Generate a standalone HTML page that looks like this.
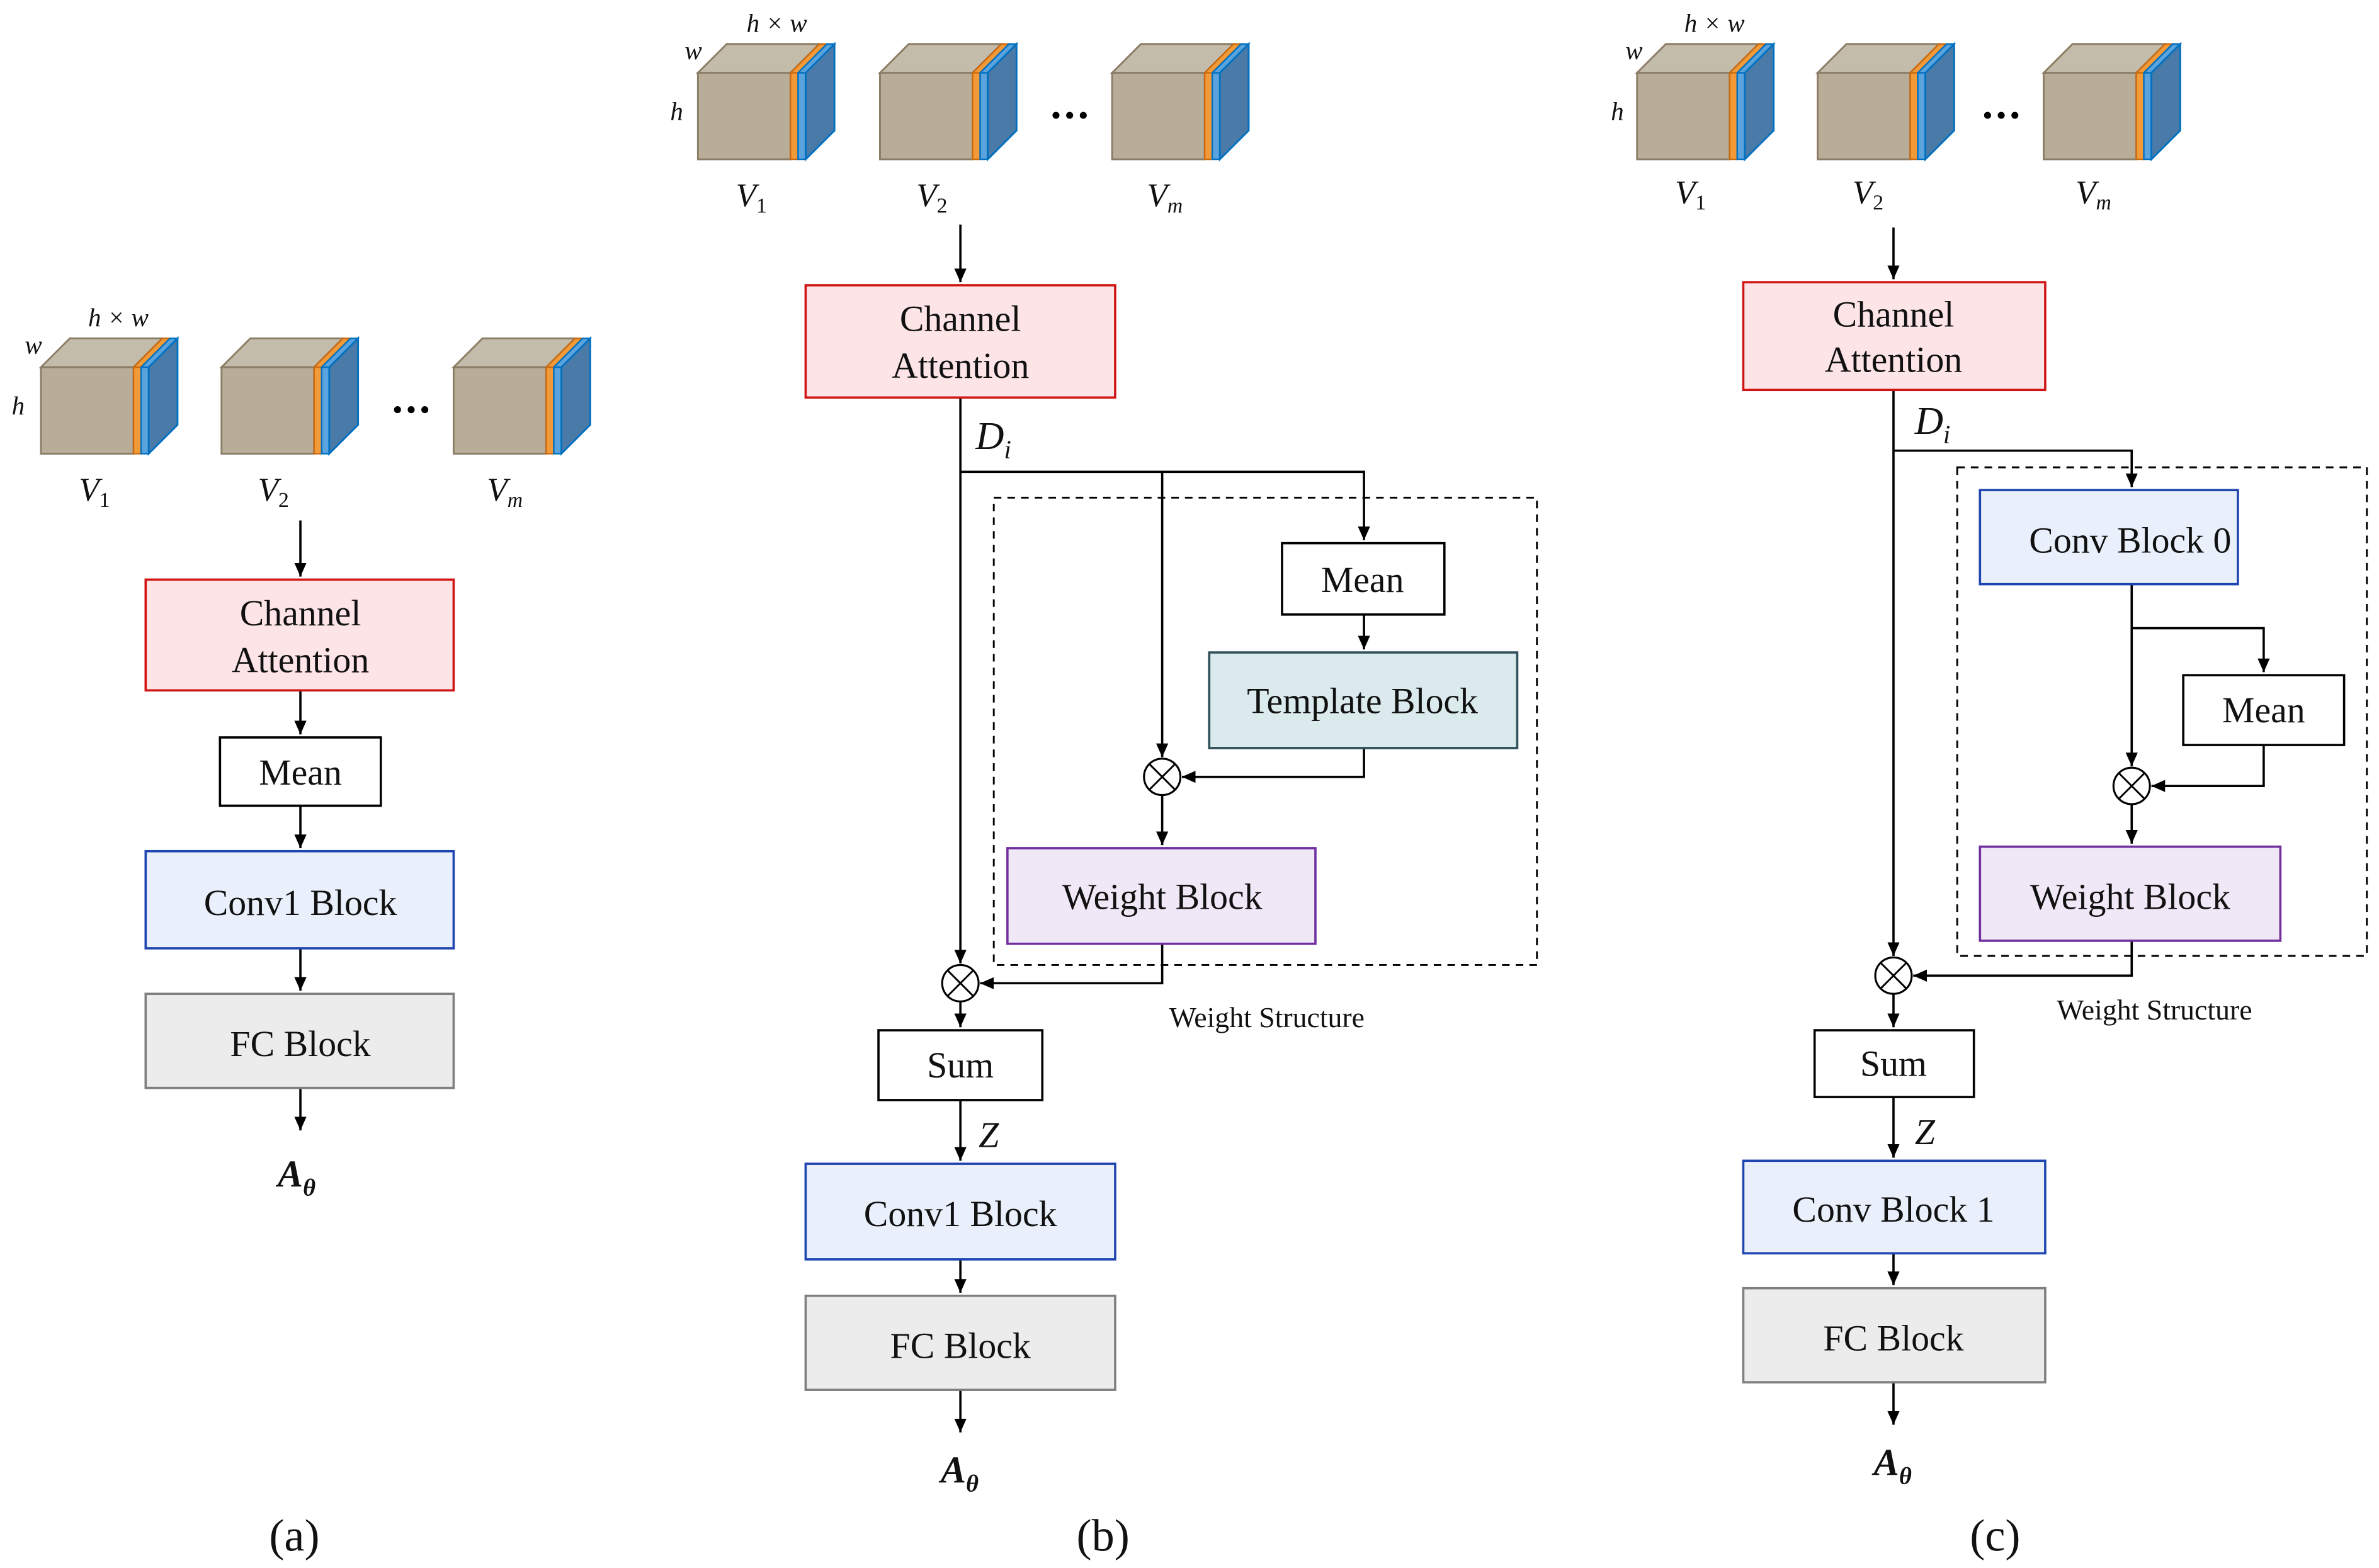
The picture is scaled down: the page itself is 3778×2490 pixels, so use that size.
<!DOCTYPE html>
<html><head><meta charset="utf-8"><style>
html,body{margin:0;padding:0;background:#fff;}
svg{display:block;}
text{font-family:"Liberation Serif",serif;fill:#111;}
.bx{font-size:24px;text-anchor:middle;dominant-baseline:central;}
.m{font-style:italic;}
</style></head><body>
<svg width="3778" height="2490" viewBox="0 0 1568 1033.4" preserveAspectRatio="none" xmlns="http://www.w3.org/2000/svg">
<defs>
<marker id="ar" markerWidth="10" markerHeight="10" refX="9" refY="5" orient="auto" markerUnits="userSpaceOnUse"><path d="M0,1 L9,5 L0,9 Z" fill="#000"/></marker>
<g id="cube">
 <polygon points="0,0 19,-19 80,-19 61,0" fill="#c4bcaa" stroke="#8b7d65" stroke-width="1.2"/>
 <polygon points="61,0 80,-19 85,-19 66,0" fill="#f29a38" stroke="#c96a10" stroke-width="1"/>
 <polygon points="66,0 85,-19 90,-19 71,0" fill="#5ba3dd" stroke="#0070c0" stroke-width="1"/>
 <rect x="0" y="0" width="61" height="57" fill="#b8ad98" stroke="#8b7d65" stroke-width="1.2"/>
 <rect x="61" y="0" width="5" height="57" fill="#f29a38" stroke="#c96a10" stroke-width="1"/>
 <rect x="66" y="0" width="5" height="57" fill="#5ba3dd" stroke="#0070c0" stroke-width="1"/>
 <polygon points="71,0 90,-19 90,38 71,57" fill="#4a7aa8" stroke="#0070c0" stroke-width="1.2"/>
</g>
<g id="otimes"><circle cx="0" cy="0" r="12" fill="#fff" stroke="#000" stroke-width="1.3"/><path d="M-8.5,-8.5 L8.5,8.5 M-8.5,8.5 L8.5,-8.5" stroke="#000" stroke-width="1.2"/></g>
</defs>
<g stroke="#000" stroke-width="1.5" fill="none">
<path d="M198,343 V380" marker-end="url(#ar)"/>
<path d="M198,455 V484" marker-end="url(#ar)"/>
<path d="M198,531 V559" marker-end="url(#ar)"/>
<path d="M198,625 V653" marker-end="url(#ar)"/>
<path d="M198,717 V745" marker-end="url(#ar)"/>
<path d="M633,148 V186" marker-end="url(#ar)"/>
<path d="M633,262 V635" marker-end="url(#ar)"/>
<path d="M633,311 H899 V356" marker-end="url(#ar)"/>
<path d="M766,311 V499" marker-end="url(#ar)"/>
<path d="M899,405 V428" marker-end="url(#ar)"/>
<path d="M899,493 V512 H779" marker-end="url(#ar)"/>
<path d="M766,524 V557" marker-end="url(#ar)"/>
<path d="M766,622 V648 H646" marker-end="url(#ar)"/>
<path d="M633,660 V677" marker-end="url(#ar)"/>
<path d="M633,725 V765" marker-end="url(#ar)"/>
<path d="M633,830 V852" marker-end="url(#ar)"/>
<path d="M633,916 V944" marker-end="url(#ar)"/>
<path d="M1248,150 V184" marker-end="url(#ar)"/>
<path d="M1248,257 V630" marker-end="url(#ar)"/>
<path d="M1248,297 H1405 V321" marker-end="url(#ar)"/>
<path d="M1405,385 V505" marker-end="url(#ar)"/>
<path d="M1405,414 H1492 V443" marker-end="url(#ar)"/>
<path d="M1492,491 V518 H1418" marker-end="url(#ar)"/>
<path d="M1405,530 V556" marker-end="url(#ar)"/>
<path d="M1405,620 V643 H1261" marker-end="url(#ar)"/>
<path d="M1248,655 V677" marker-end="url(#ar)"/>
<path d="M1248,723 V763" marker-end="url(#ar)"/>
<path d="M1248,826 V847" marker-end="url(#ar)"/>
<path d="M1248,911 V939" marker-end="url(#ar)"/>
</g>
<rect x="655" y="328" width="358" height="308" fill="none" stroke="#000" stroke-width="1.2" stroke-dasharray="5,4"/>
<rect x="1290" y="308" width="270" height="322" fill="none" stroke="#000" stroke-width="1.2" stroke-dasharray="5,4"/>
<use href="#cube" x="27" y="242"/><use href="#cube" x="146" y="242"/><use href="#cube" x="299" y="242"/>
<use href="#cube" x="460" y="48"/><use href="#cube" x="580" y="48"/><use href="#cube" x="733" y="48"/>
<use href="#cube" x="1079" y="48"/><use href="#cube" x="1198" y="48"/><use href="#cube" x="1347" y="48"/>
<g fill="#000"><circle cx="262" cy="270" r="2.3"/><circle cx="271" cy="270" r="2.3"/><circle cx="280" cy="270" r="2.3"/>
<circle cx="696" cy="76" r="2.3"/><circle cx="705" cy="76" r="2.3"/><circle cx="714" cy="76" r="2.3"/>
<circle cx="1310" cy="76" r="2.3"/><circle cx="1319" cy="76" r="2.3"/><circle cx="1328" cy="76" r="2.3"/></g>
<g font-size="17">
<text x="78" y="215" text-anchor="middle" class="m">h × w</text><text x="22" y="233" text-anchor="middle" class="m">w</text><text x="12" y="273" text-anchor="middle" class="m">h</text>
<text x="512" y="21" text-anchor="middle" class="m">h × w</text><text x="457" y="39" text-anchor="middle" class="m">w</text><text x="446" y="79" text-anchor="middle" class="m">h</text>
<text x="1130" y="21" text-anchor="middle" class="m">h × w</text><text x="1077" y="39" text-anchor="middle" class="m">w</text><text x="1066" y="79" text-anchor="middle" class="m">h</text>
</g>
<g font-size="22">
<text x="52" y="330" class="m">V<tspan font-size="14" dy="4" font-style="normal">1</tspan></text>
<text x="170" y="330" class="m">V<tspan font-size="14" dy="4" font-style="normal">2</tspan></text>
<text x="321" y="330" class="m">V<tspan font-size="14" dy="4">m</tspan></text>
<text x="485" y="136" class="m">V<tspan font-size="14" dy="4" font-style="normal">1</tspan></text>
<text x="604" y="136" class="m">V<tspan font-size="14" dy="4" font-style="normal">2</tspan></text>
<text x="756" y="136" class="m">V<tspan font-size="14" dy="4">m</tspan></text>
<text x="1104" y="134" class="m">V<tspan font-size="14" dy="4" font-style="normal">1</tspan></text>
<text x="1221" y="134" class="m">V<tspan font-size="14" dy="4" font-style="normal">2</tspan></text>
<text x="1368" y="134" class="m">V<tspan font-size="14" dy="4">m</tspan></text>
</g>
<rect x="96" y="382" width="203" height="73" fill="#fde4e6" stroke="#d01515" stroke-width="1.5"/>
<text class="bx" x="198" y="404">Channel</text><text class="bx" x="198" y="435">Attention</text>
<rect x="145" y="486" width="106" height="45" fill="#fff" stroke="#000" stroke-width="1.5"/><text class="bx" x="198" y="509">Mean</text>
<rect x="96" y="561" width="203" height="64" fill="#e9f0fb" stroke="#1f45b0" stroke-width="1.5"/><text class="bx" x="198" y="595">Conv1 Block</text>
<rect x="96" y="655" width="203" height="62" fill="#ececec" stroke="#7f7f7f" stroke-width="1.5"/><text class="bx" x="198" y="688">FC Block</text>
<rect x="531" y="188" width="204" height="74" fill="#fde4e6" stroke="#d01515" stroke-width="1.5"/>
<text class="bx" x="633" y="210">Channel</text><text class="bx" x="633" y="241">Attention</text>
<rect x="845" y="358" width="107" height="47" fill="#fff" stroke="#000" stroke-width="1.5"/><text class="bx" x="898" y="382">Mean</text>
<rect x="797" y="430" width="203" height="63" fill="#dbeaed" stroke="#2f4f5a" stroke-width="1.5"/><text class="bx" x="898" y="462">Template Block</text>
<rect x="664" y="559" width="203" height="63" fill="#f1e8f7" stroke="#7030a0" stroke-width="1.5"/><text class="bx" x="766" y="591">Weight Block</text>
<rect x="579" y="679" width="108" height="46" fill="#fff" stroke="#000" stroke-width="1.5"/><text class="bx" x="633" y="702">Sum</text>
<rect x="531" y="767" width="204" height="63" fill="#e9f0fb" stroke="#1f45b0" stroke-width="1.5"/><text class="bx" x="633" y="800">Conv1 Block</text>
<rect x="531" y="854" width="204" height="62" fill="#ececec" stroke="#7f7f7f" stroke-width="1.5"/><text class="bx" x="633" y="887">FC Block</text>
<use href="#otimes" x="766" y="512"/><use href="#otimes" x="633" y="648"/>
<text x="643" y="296" font-size="26" class="m">D<tspan font-size="17" dy="6">i</tspan></text>
<text x="645" y="756" font-size="24" class="m">Z</text>
<text x="835" y="677" font-size="19" text-anchor="middle">Weight Structure</text>
<text x="620" y="977" font-size="25" font-weight="bold" class="m">A<tspan font-size="16" dy="6">θ</tspan></text>
<rect x="1149" y="186" width="199" height="71" fill="#fde4e6" stroke="#d01515" stroke-width="1.5"/>
<text class="bx" x="1248" y="207">Channel</text><text class="bx" x="1248" y="237">Attention</text>
<rect x="1305" y="323" width="170" height="62" fill="#e9f0fb" stroke="#1f45b0" stroke-width="1.5"/><text class="bx" x="1404" y="356" font-size="22">Conv Block 0</text>
<rect x="1439" y="445" width="106" height="46" fill="#fff" stroke="#000" stroke-width="1.5"/><text class="bx" x="1492" y="468">Mean</text>
<rect x="1305" y="558" width="198" height="62" fill="#f1e8f7" stroke="#7030a0" stroke-width="1.5"/><text class="bx" x="1404" y="591">Weight Block</text>
<rect x="1196" y="679" width="105" height="44" fill="#fff" stroke="#000" stroke-width="1.5"/><text class="bx" x="1248" y="701">Sum</text>
<rect x="1149" y="765" width="199" height="61" fill="#e9f0fb" stroke="#1f45b0" stroke-width="1.5"/><text class="bx" x="1248" y="797">Conv Block 1</text>
<rect x="1149" y="849" width="199" height="62" fill="#ececec" stroke="#7f7f7f" stroke-width="1.5"/><text class="bx" x="1248" y="882">FC Block</text>
<use href="#otimes" x="1405" y="518"/><use href="#otimes" x="1248" y="643"/>
<text x="1262" y="286" font-size="26" class="m">D<tspan font-size="17" dy="6">i</tspan></text>
<text x="1262" y="754" font-size="24" class="m">Z</text>
<text x="1420" y="672" font-size="19" text-anchor="middle">Weight Structure</text>
<text x="1235" y="972" font-size="25" font-weight="bold" class="m">A<tspan font-size="16" dy="6">θ</tspan></text>
<text x="183" y="782" font-size="25" font-weight="bold" class="m">A<tspan font-size="16" dy="6">θ</tspan></text>
<text x="194" y="1022" font-size="30" text-anchor="middle">(a)</text>
<text x="727" y="1022" font-size="30" text-anchor="middle">(b)</text>
<text x="1315" y="1022" font-size="30" text-anchor="middle">(c)</text>
</svg>
</body></html>
